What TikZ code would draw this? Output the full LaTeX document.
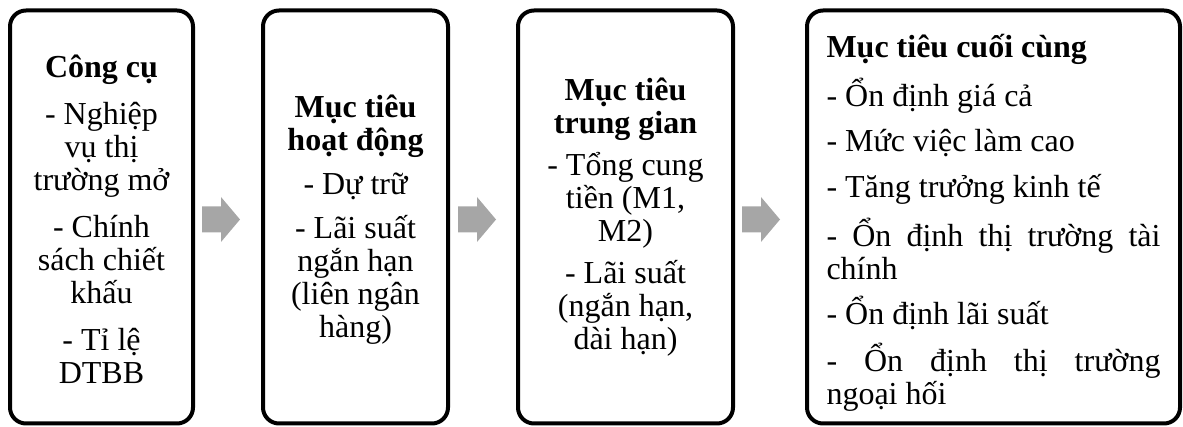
\documentclass[tikz,border=0pt]{standalone}
\usepackage{fontspec}
\setmainfont{Liberation Serif}
\usetikzlibrary{calc}
\definecolor{arrowgray}{HTML}{A6A6A6}
\begin{document}
\begin{tikzpicture}[x=1pt,y=1pt,
  box/.style={draw, line width=4pt, rounded corners=16pt, minimum height=413pt, inner sep=0pt},
  boxtext/.style={inner sep=0pt, font=\fontsize{32}{33}\selectfont},
  blockarrow/.style={fill=arrowgray}]
\useasboundingbox (0,0) rectangle (1183,427);
\node[box, minimum width=183pt] (b1) at (101.5,210) {};
\node[box, minimum width=185pt] (b2) at (355.5,210) {};
\node[box, minimum width=215pt] (b3) at (625.5,210) {};
\node[box, minimum width=373pt] (b4) at (993.5,210) {};
\node[boxtext, align=center] (t1) at ($(b1.center)+(0,-2)$)
  {\textbf{Công cụ}\\[14pt]- Nghiệp\\vụ thị\\trường mở\\[14pt]- Chính\\sách chiết\\khấu\\[14pt]- Tỉ lệ\\DTBB};
\node[boxtext, align=center] (t2) at ($(b2.center)+(0,-3)$)
  {\textbf{Mục tiêu}\\\textbf{hoạt động}\\[11pt]- Dự trữ\\[11pt]- Lãi suất\\ngắn hạn\\(liên ngân\\hàng)};
\node[boxtext, align=center] (t3) at (b3.center)
  {\textbf{Mục tiêu}\\\textbf{trung gian}\\[9pt]- Tổng cung\\tiền (M1,\\M2)\\[9pt]- Lãi suất\\(ngắn hạn,\\dài hạn)};
\node[boxtext, text width=334pt, align=justify] (t4) at ($(b4.center)+(0,-6)$)
  {\setlength{\parindent}{0pt}\setlength{\parskip}{12.5pt}\hyphenpenalty=10000
   \textbf{Mục tiêu cuối cùng}\par
   - Ổn định giá cả\par
   - Mức việc làm cao\par
   - Tăng trưởng kinh tế\par
   - Ổn định thị trường tài\linebreak chính\par
   - Ổn định lãi suất\par
   - Ổn định thị trường\linebreak ngoại hối};
\coordinate (a1) at (202,207.5);
\coordinate (a2) at (458,207.5);
\coordinate (a3) at (742,207.5);
\foreach \a in {a1,a2,a3}
  \path[blockarrow] (\a) ++(0,-13) -- ++(19,0) -- ++(0,-9.5) -- ++(19,22.5)
    -- ++(-19,22.5) -- ++(0,-9.5) -- ++(-19,0) -- cycle;
\end{tikzpicture}
\end{document}
